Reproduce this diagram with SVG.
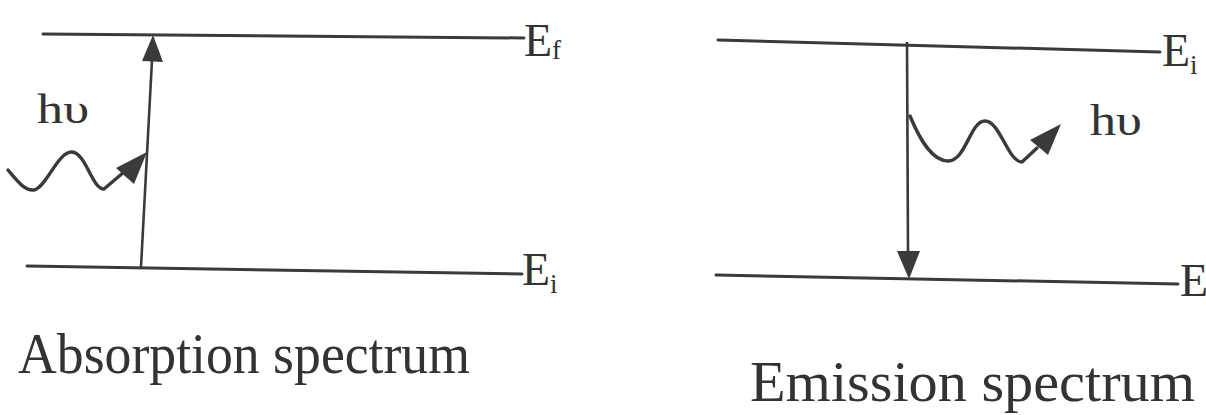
<svg xmlns="http://www.w3.org/2000/svg" width="1206" height="415" viewBox="0 0 1206 415">
<style>
.lvl{stroke:#3a3a3a;stroke-width:3;fill:none;stroke-linecap:round}
.tr{stroke:#3a3a3a;stroke-width:2.6;fill:none}
.wave{stroke:#3a3a3a;stroke-width:3.4;fill:none;stroke-linecap:round;stroke-linejoin:round}
.head{fill:#3a3a3a;stroke:none}
.t{font-family:"Liberation Serif","Times New Roman",serif;fill:#333}
</style>
<rect width="1206" height="415" fill="#fff"/>
<g id="absorption">
  <g id="abs-levels">
    <path class="lvl" d="M43,34 L524,38"/>
    <path class="lvl" d="M27,266 L522,274"/>
    <text class="t" x="524" y="56" font-size="46">E<tspan font-size="27" dy="3">f</tspan></text>
    <text class="t" x="522" y="285" font-size="46">E<tspan font-size="27" dy="8">i</tspan></text>
  </g>
  <g id="abs-photon">
    <text class="t" x="37" y="123" font-size="42" textLength="52" lengthAdjust="spacingAndGlyphs">hυ</text>
  </g>
  <text class="t" x="18" y="373" font-size="58" textLength="452" lengthAdjust="spacingAndGlyphs">Absorption spectrum</text>
</g>
<g id="emission">
  <g id="em-levels">
    <path class="lvl" d="M718,40 L1160,52"/>
    <path class="lvl" d="M716,275 L1178,284"/>
    <text class="t" x="1162" y="66" font-size="46">E<tspan font-size="27" dy="8">i</tspan></text>
    <text class="t" x="1180" y="296" font-size="46">E</text>
  </g>
  <g id="em-photon">
    <text class="t" x="1090" y="135" font-size="44" textLength="52" lengthAdjust="spacingAndGlyphs">hυ</text>
  </g>
  <text class="t" x="750" y="401" font-size="57" textLength="445" lengthAdjust="spacingAndGlyphs">Emission spectrum</text>
</g>
<g id="connectors">
  <path class="tr" d="M141,267 L152,60"/>
  <path class="head" d="M153,35 L163,62 L142,61 Z"/>
  <path class="wave" d="M8,170 C18,182 25,191 34,190 C46,188 58,151 72,152 C86,153 92,189 104,189 L124,172"/>
  <path class="head" d="M147,152 L134,184 L126,177 L116,168 Z"/>
  <path class="tr" d="M907,42 L908,252"/>
  <path class="head" d="M909,279 L897,251 L920,251 Z"/>
  <path class="wave" d="M910,116 C920,140 932,161 948,161 C966,161 970,121 985,121 C1000,121 1008,162 1022,162 L1037,148"/>
  <path class="head" d="M1061,124 L1048,155 L1041,149 L1030,140 Z"/>
</g>
</svg>
